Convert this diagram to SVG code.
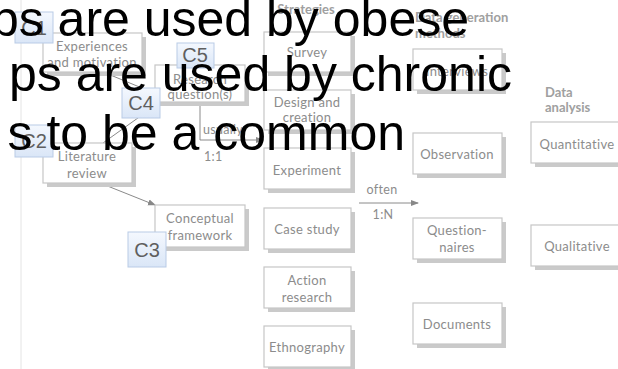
<svg xmlns="http://www.w3.org/2000/svg" width="618" height="369" viewBox="0 0 618 369">
<defs>
<linearGradient id="cg" x1="0" y1="0" x2="0" y2="1">
<stop offset="0" stop-color="#f4f8fe"/>
<stop offset="1" stop-color="#dae6f7"/>
</linearGradient>
<marker id="ah" viewBox="0 0 8 8" refX="7" refY="4" markerWidth="8" markerHeight="8" orient="auto" markerUnits="userSpaceOnUse">
<path d="M0,1 L8,4 L0,7 Z" fill="#888"/>
</marker>
<style>
.sh{fill:#cacaca}
.bx{fill:#fff;stroke:#c6c6c6;stroke-width:1.2}
.t{font-family:Lato,"Open Sans",sans-serif;font-size:13px;letter-spacing:0.3px;fill:#8c8c8c;text-anchor:middle}
.h{font-family:Lato,"Open Sans",sans-serif;font-size:13px;font-weight:bold;fill:#a0a0a0}
.lbl{font-family:Lato,"Open Sans",sans-serif;font-size:12.5px;letter-spacing:0.3px;fill:#8c8c8c}
.c{fill:url(#cg);stroke:#b9cbe6;stroke-width:1}
.ct{font-family:"Liberation Sans",Arial,sans-serif;font-size:20px;fill:#5f5f5f;text-anchor:middle}
.ln{fill:none;stroke:#8a8a8a;stroke-width:1}
.big{font-family:"Liberation Sans",Arial,sans-serif;font-size:50px;fill:#000;text-anchor:end}
</style>
</defs>
<rect width="618" height="369" fill="#fff"/>
<line x1="21" y1="0" x2="21" y2="369" stroke="#e4e4e4" stroke-width="1"/>

<g id="headers">
<text class="h" x="306" y="14" text-anchor="middle">Strategies</text>
<text class="h" x="415" y="22">Data generation</text>
<text class="h" x="415" y="38">methods</text>
<text class="h" x="545" y="97">Data</text>
<text class="h" x="545" y="112">analysis</text>
</g>

<g id="connectors">
<line class="ln" x1="108" y1="74" x2="154" y2="93" marker-end="url(#ah)"/>
<line class="ln" x1="103" y1="143" x2="156" y2="105" marker-end="url(#ah)"/>
<line class="ln" x1="100" y1="183" x2="155" y2="205" marker-end="url(#ah)"/>
<polyline class="ln" points="200,103 200,140 263,140" marker-end="url(#ah)"/>
<line class="ln" x1="359" y1="203" x2="418" y2="203" marker-end="url(#ah)"/>
<text class="lbl" x="203" y="134">usually</text>
<text class="lbl" x="204" y="161">1:1</text>
<text class="lbl" x="382" y="194" text-anchor="middle">often</text>
<text class="lbl" x="383" y="219" text-anchor="middle">1:N</text>
</g>

<g id="experiences"><rect class="sh" x="47" y="37" width="99" height="39"/><rect class="bx" x="43" y="33" width="99" height="39"/><text class="t" x="92" y="51">Experiences</text><text class="t" x="92" y="67">and motivation</text></g>
<g id="research"><rect class="sh" x="159" y="69" width="90" height="37"/><rect class="bx" x="155" y="65" width="90" height="37"/><text class="t" x="200" y="84">Research</text><text class="t" x="200" y="99">question(s)</text></g>
<g id="literature"><rect class="sh" x="47" y="147" width="89" height="40"/><rect class="bx" x="43" y="143" width="89" height="40"/><text class="t" x="87" y="161">Literature</text><text class="t" x="87" y="178">review</text></g>
<g id="conceptual"><rect class="sh" x="159" y="209" width="90" height="42"/><rect class="bx" x="155" y="205" width="90" height="42"/><text class="t" x="200" y="223">Conceptual</text><text class="t" x="200" y="240">framework</text></g>

<g id="survey"><rect class="sh" x="268" y="36" width="87" height="40"/><rect class="bx" x="264" y="32" width="87" height="40"/><text class="t" x="307" y="57">Survey</text></g>
<g id="design"><rect class="sh" x="268" y="94" width="87" height="40"/><rect class="bx" x="264" y="90" width="87" height="40"/><text class="t" x="307" y="107">Design and</text><text class="t" x="307" y="122">creation</text></g>
<g id="experiment"><rect class="sh" x="268" y="152" width="87" height="41"/><rect class="bx" x="264" y="148" width="87" height="41"/><text class="t" x="307" y="175">Experiment</text></g>
<g id="casestudy"><rect class="sh" x="268" y="212" width="87" height="41"/><rect class="bx" x="264" y="208" width="87" height="41"/><text class="t" x="307" y="234">Case study</text></g>
<g id="action"><rect class="sh" x="268" y="271" width="87" height="41"/><rect class="bx" x="264" y="267" width="87" height="41"/><text class="t" x="307" y="285">Action</text><text class="t" x="307" y="302">research</text></g>
<g id="ethnography"><rect class="sh" x="268" y="330" width="87" height="41"/><rect class="bx" x="264" y="326" width="87" height="41"/><text class="t" x="307" y="352">Ethnography</text></g>

<g id="interviews"><rect class="sh" x="417" y="53" width="89" height="41"/><rect class="bx" x="413" y="49" width="89" height="41"/><text class="t" x="457" y="76">Interviews</text></g>
<g id="observation"><rect class="sh" x="417" y="137" width="89" height="41"/><rect class="bx" x="413" y="133" width="89" height="41"/><text class="t" x="457" y="159">Observation</text></g>
<g id="questionnaires"><rect class="sh" x="417" y="222" width="89" height="41"/><rect class="bx" x="413" y="218" width="89" height="41"/><text class="t" x="457" y="235">Question-</text><text class="t" x="457" y="252">naires</text></g>
<g id="documents"><rect class="sh" x="417" y="307" width="89" height="41"/><rect class="bx" x="413" y="303" width="89" height="41"/><text class="t" x="457" y="329">Documents</text></g>

<g id="quantitative"><rect class="sh" x="535" y="126" width="90" height="41"/><rect class="bx" x="531" y="122" width="90" height="41"/><text class="t" x="577" y="149">Quantitative</text></g>
<g id="qualitative"><rect class="sh" x="535" y="229" width="90" height="41"/><rect class="bx" x="531" y="225" width="90" height="41"/><text class="t" x="577" y="251">Qualitative</text></g>

<g id="c1"><rect class="c" x="15" y="12" width="38" height="31"/><text class="ct" x="34" y="35">C1</text></g>
<g id="c5"><rect class="c" x="177" y="43" width="37" height="25"/><text class="ct" x="195" y="62">C5</text></g>
<g id="c4"><rect class="c" x="122" y="88" width="38" height="30"/><text class="ct" x="141" y="110">C4</text></g>
<g id="c2"><rect class="c" x="15" y="125" width="38" height="32"/><text class="ct" x="34" y="148">C2</text></g>
<g id="c3"><rect class="c" x="128" y="232" width="38" height="35"/><text class="ct" x="147" y="257">C3</text></g>

<g id="overlay">
<text class="big" x="469" y="36">ps are used by obese</text>
<text class="big" x="512" y="91">ps are used by chronic</text>
<text class="big" x="405" y="150">s to be a common</text>
</g>
</svg>
